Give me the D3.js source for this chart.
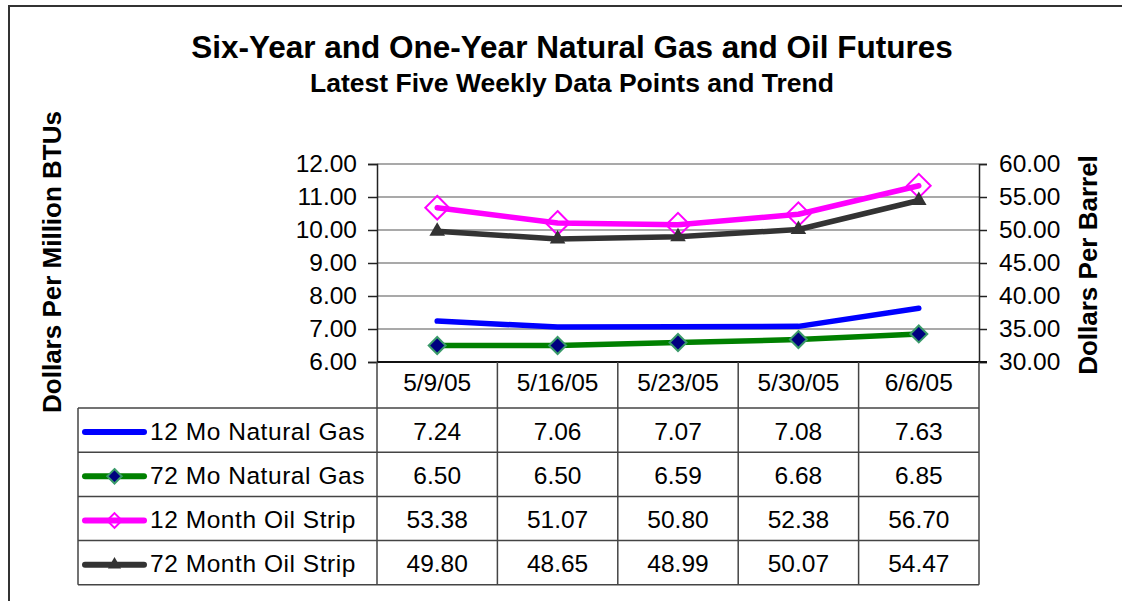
<!DOCTYPE html>
<html>
<head>
<meta charset="utf-8">
<script src="https://cdn.jsdelivr.net/npm/d3@7"></script>
<style>
    body { margin: 0; background: #fff; }
    svg { font-family: Arial, "Liberation Sans", sans-serif; display: block; }
</style>
</head>
<body>
<svg id="chart" width="1122" height="601"></svg>
<script>
// Data
const dates = ['5/9/05', '5/16/05', '5/23/05', '5/30/05', '6/6/05'];
const gas12 = [7.24, 7.06, 7.07, 7.08, 7.63];
const gas72 = [6.50, 6.50, 6.59, 6.68, 6.85];
const oil12 = [53.38, 51.07, 50.80, 52.38, 56.70];
const oil72 = [49.80, 48.65, 48.99, 50.07, 54.47];
const leftTicks = [6, 7, 8, 9, 10, 11, 12];
const rightTicks = [30, 35, 40, 45, 50, 55, 60];

const series = [
    { name: '12 Mo Natural Gas', values: gas12, axis: 'left', color: '#0000ff', marker: 'none' },
    { name: '72 Mo Natural Gas', values: gas72, axis: 'left', color: '#008000', marker: 'diamond' },
    { name: '12 Month Oil Strip', values: oil12, axis: 'right', color: '#ff00ff', marker: 'hollow' },
    { name: '72 Month Oil Strip', values: oil72, axis: 'right', color: '#333333', marker: 'triangle' }
];

// Layout
const PLOT = { left: 377, right: 979, top: 164, bottom: 362 };
const TABLE = { left: 78, top: 408, rowH: 44.2 };
const LINE_W = 5.5;

const svg = d3.select('#chart');

// frame
svg.append('path')
    .attr('d', 'M9,610 V6 H1130')
    .attr('fill', 'none')
    .attr('stroke', '#333')
    .attr('stroke-width', 2);

// titles
svg.append('text')
    .attr('x', 572).attr('y', 58)
    .attr('text-anchor', 'middle')
    .attr('font-weight', 'bold')
    .attr('font-size', 31.5)
    .text('Six-Year and One-Year Natural Gas and Oil Futures');

svg.append('text')
    .attr('x', 572).attr('y', 92)
    .attr('text-anchor', 'middle')
    .attr('font-weight', 'bold')
    .attr('font-size', 26.5)
    .text('Latest Five Weekly Data Points and Trend');

svg.append('text')
    .attr('transform', 'translate(61,262) rotate(-90)')
    .attr('text-anchor', 'middle')
    .attr('font-weight', 'bold')
    .attr('font-size', 26)
    .text('Dollars Per Million BTUs');

svg.append('text')
    .attr('transform', 'translate(1097,265) rotate(-90)')
    .attr('text-anchor', 'middle')
    .attr('font-weight', 'bold')
    .attr('font-size', 26)
    .text('Dollars Per Barrel');

// scales
const x = d3.scaleBand().domain(dates).range([PLOT.left, PLOT.right]);
const yL = d3.scaleLinear().domain([6, 12]).range([PLOT.bottom, PLOT.top]);
const yR = d3.scaleLinear().domain([30, 60]).range([PLOT.bottom, PLOT.top]);
const cx = (d) => x(d) + x.bandwidth() / 2;

// gridlines
svg.append('g')
    .selectAll('line')
    .data(leftTicks.slice(1))
    .join('line')
        .attr('x1', PLOT.left).attr('x2', PLOT.right)
        .attr('y1', (d) => yL(d)).attr('y2', (d) => yL(d))
        .attr('stroke', '#555')
        .attr('stroke-width', 1.2);

// axes
const axisL = svg.append('g')
    .attr('transform', 'translate(' + PLOT.left + ',0)')
    .call(d3.axisLeft(yL).tickValues(leftTicks).tickFormat(d3.format('.2f')).tickSizeOuter(0).tickSize(9).tickPadding(11));
const axisR = svg.append('g')
    .attr('transform', 'translate(' + PLOT.right + ',0)')
    .call(d3.axisRight(yR).tickValues(rightTicks).tickFormat(d3.format('.2f')).tickSizeOuter(0).tickSize(8).tickPadding(12));

[axisL, axisR].forEach((a) => {
    a.select('.domain').attr('stroke', '#222').attr('stroke-width', 1.5);
    a.selectAll('.tick line').attr('stroke', '#222').attr('stroke-width', 1.5);
    a.selectAll('.tick text')
        .attr('font-size', 24.5)
        .attr('font-family', 'Arial, "Liberation Sans", sans-serif')
        .attr('fill', '#000');
});

// bottom axis line (with right tick extension)
svg.append('line')
    .attr('x1', PLOT.left).attr('x2', PLOT.right + 8)
    .attr('y1', PLOT.bottom).attr('y2', PLOT.bottom)
    .attr('stroke', '#111').attr('stroke-width', 2);

// data table grid
const nRows = series.length;
const tableBottom = TABLE.top + TABLE.rowH * nRows;
const grid = svg.append('g').attr('stroke', '#444').attr('stroke-width', 1.5);

grid.selectAll('line.vcol')
    .data(dates.map((d) => x(d)).concat([PLOT.right]))
    .join('line')
        .attr('class', 'vcol')
        .attr('x1', (d) => d).attr('x2', (d) => d)
        .attr('y1', PLOT.bottom).attr('y2', tableBottom);

grid.append('line')
    .attr('x1', TABLE.left).attr('x2', TABLE.left)
    .attr('y1', TABLE.top).attr('y2', tableBottom);

grid.selectAll('line.hrow')
    .data(d3.range(nRows + 1))
    .join('line')
        .attr('class', 'hrow')
        .attr('x1', TABLE.left).attr('x2', PLOT.right)
        .attr('y1', (i) => TABLE.top + i * TABLE.rowH)
        .attr('y2', (i) => TABLE.top + i * TABLE.rowH);

// category labels
svg.append('g')
    .selectAll('text')
    .data(dates)
    .join('text')
        .attr('x', cx)
        .attr('y', 391)
        .attr('text-anchor', 'middle')
        .attr('font-size', 24.5)
        .text((d) => d);

// table values
const rows = svg.append('g')
    .selectAll('g')
    .data(series)
    .join('g')
        .attr('transform', (s, i) => 'translate(0,' + (TABLE.top + i * TABLE.rowH) + ')');

rows.selectAll('text.val')
    .data((s) => s.values)
    .join('text')
        .attr('class', 'val')
        .attr('x', (v, i) => cx(dates[i]))
        .attr('y', TABLE.rowH / 2 + 9.5)
        .attr('text-anchor', 'middle')
        .attr('font-size', 24.5)
        .text((v) => d3.format('.2f')(v));

rows.append('text')
    .attr('x', 150)
    .attr('y', TABLE.rowH / 2 + 9.5)
    .attr('font-size', 24.5)
    .attr('letter-spacing', 0.55)
    .text((s) => s.name);

// legend keys
rows.append('line')
    .attr('x1', 85).attr('x2', 144)
    .attr('y1', TABLE.rowH / 2 + 2).attr('y2', TABLE.rowH / 2 + 2)
    .attr('stroke', (s) => s.color)
    .attr('stroke-width', LINE_W + 0.5)
    .attr('stroke-linecap', 'round');

// markers
function drawMarker(sel, s, scale) {
    if (scale === undefined) scale = 1;
    if (s.marker === 'diamond') {
        sel.append('path')
            .attr('d', d3.symbol(d3.symbolDiamond2, 184 * scale * scale)())
            .attr('fill', '#000080')
            .attr('stroke', '#3a9a6a')
            .attr('stroke-width', 2);
    } else if (s.marker === 'hollow') {
        sel.append('path')
            .attr('d', d3.symbol(d3.symbolDiamond2, 360 * scale * scale)())
            .attr('fill', 'none')
            .attr('stroke', s.color)
            .attr('stroke-width', 2);
    } else if (s.marker === 'triangle') {
        sel.append('path')
            .attr('d', d3.symbol(d3.symbolTriangle, 105 * scale * scale)())
            .attr('fill', s.color);
    }
}

rows.each(function (s) {
    const g = d3.select(this).append('g')
        .attr('transform', 'translate(114.5,' + (TABLE.rowH / 2 + 2) + ')');
    drawMarker(g, s, s.marker === 'hollow' ? 0.62 : 0.85);
});

// lines
const plot = svg.append('g');

series.forEach((s) => {
    const y = s.axis === 'left' ? yL : yR;
    const line = d3.line()
        .x((v, i) => cx(dates[i]))
        .y((v) => y(v));

    plot.append('path')
        .datum(s.values)
        .attr('d', line)
        .attr('fill', 'none')
        .attr('stroke', s.color)
        .attr('stroke-width', LINE_W)
        .attr('stroke-linecap', 'round')
        .attr('stroke-linejoin', 'round');

    plot.append('g')
        .selectAll('g')
        .data(s.values)
        .join('g')
            .attr('transform', (v, i) => 'translate(' + cx(dates[i]) + ',' + y(v) + ')')
            .each(function () { drawMarker(d3.select(this), s); });
});
</script>
</body>
</html>
